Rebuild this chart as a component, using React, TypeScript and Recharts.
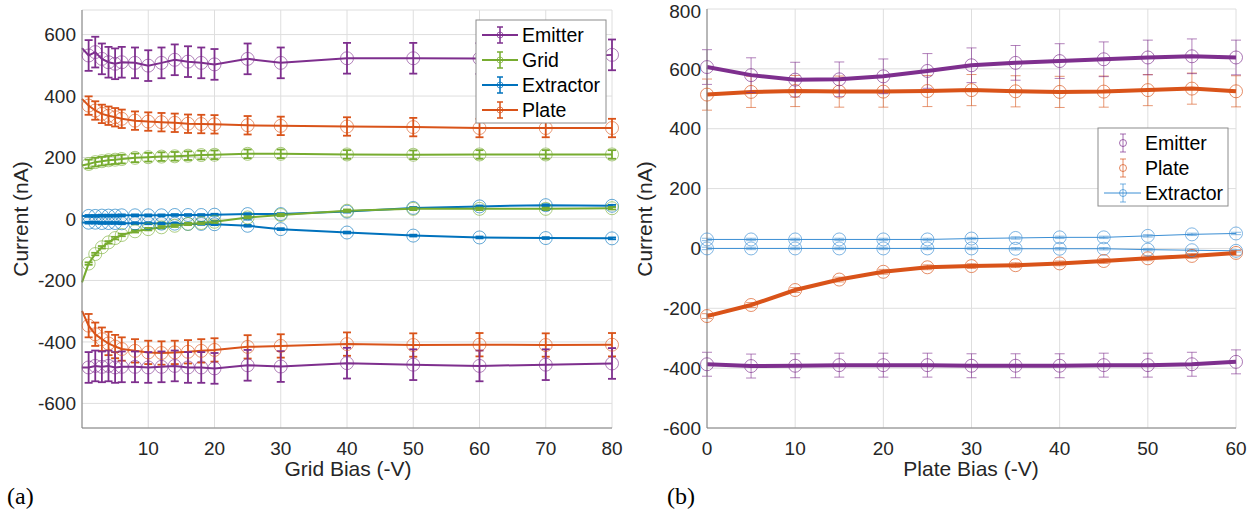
import React from 'react';
import { ComposedChart, Line, ErrorBar, XAxis, YAxis, CartesianGrid } from 'recharts';

const FONT = '"Liberation Sans", Arial, Helvetica, sans-serif';
const SERIF = '"Liberation Serif", "Times New Roman", serif';

const PURPLE = '#7E2F8E';
const GREEN = '#77AC30';
const BLUE = '#0072BD';
const ORANGE = '#D95319';
const SKY = '#3A8ED4';
const GRID = '#dedede';
const AXIS = '#808080';
const INK = '#262626';

// ---- (a) grid bias sweep ----
const gridBias = [0, 1, 2, 3, 4, 5, 6, 8, 10, 12, 14, 16, 18, 20, 25, 30, 40, 50, 60, 70, 80];
const gridBiasTicks = [10, 20, 30, 40, 50, 60, 70, 80];
const currentTicksA = [-600, -400, -200, 0, 200, 400, 600];

const emitterTopA = [556, 532, 543, 521, 510, 505, 510, 508, 499, 508, 518, 512, 508, 503, 521, 508, 523, 523, 522, 524, 534];
const emitterBotA = [-483, -483, -478, -481, -478, -483, -481, -481, -483, -481, -478, -483, -483, -486, -476, -480, -469, -474, -478, -474, -470];
const plateTopA = [391, 369, 353, 342, 336, 331, 326, 320, 317, 315, 313, 310, 309, 308, 305, 303, 301, 299, 296, 296, 296];
const plateBotA = [-299, -347, -375, -391, -405, -415, -423, -429, -434, -436, -434, -432, -429, -426, -416, -413, -407, -410, -409, -410, -409];
const gridTopA = [174, 179, 185, 188, 191, 193, 195, 199, 201, 203, 204, 206, 208, 209, 212, 212, 210, 209, 210, 210, 210];
const gridBotA = [-206, -145, -114, -92, -76, -62, -52, -40, -33, -27, -22, -16, -13, -9, 5, 13, 27, 33, 33, 33, 35];
const extractorTopA = [10, 10, 10, 11, 11, 11, 12, 12, 12, 12, 13, 13, 13, 14, 16, 16, 24, 36, 41, 45, 43];
const extractorBotA = [-11, -12, -12, -13, -13, -13, -14, -14, -14, -15, -15, -16, -16, -17, -22, -33, -44, -54, -60, -62, -63];

// half-length of the error bars
const emitterErrA = 50;
const plateTopErrA = 30;
const plateBotErrA = 38;
const gridTopErrA = 14;
const gridBotErrA = 4;
const extractorErrA = 3;

// ---- (b) plate bias sweep ----
const plateBias = [0, 5, 10, 15, 20, 25, 30, 35, 40, 45, 50, 55, 60];
const plateBiasTicks = [0, 10, 20, 30, 40, 50, 60];
const currentTicksB = [-600, -400, -200, 0, 200, 400, 600, 800];

const emitterTopB = [606, 579, 564, 565, 575, 593, 612, 620, 626, 632, 638, 642, 638];
const emitterBotB = [-387, -393, -392, -390, -390, -390, -392, -392, -392, -390, -390, -387, -379];
const plateTopB = [514, 523, 526, 524, 524, 526, 529, 525, 523, 524, 529, 534, 525];
const plateBotB = [-226, -189, -139, -104, -78, -63, -59, -56, -50, -42, -33, -25, -15];
const extractorTopB = [30, 30, 30, 30, 30, 30, 33, 35, 37, 37, 42, 47, 50];
const extractorBotB = [0, 0, 0, 0, 0, 0, 0, -1, -1, -1, -4, -6, -8];

const emitterTopErrB = 58;
const emitterBotErrB = 40;
const plateTopErrB = 52;
const plateBotErrB = 8;
const extractorErrB = 4;

const dataA = gridBias.map((x, i) => {
  const err = (v: number) => (i === 0 ? null : v);
  return {
    x,
    emitterTop: emitterTopA[i],
    emitterBot: emitterBotA[i],
    plateTop: plateTopA[i],
    plateBot: plateBotA[i],
    gridTop: gridTopA[i],
    gridBot: gridBotA[i],
    extractorTop: extractorTopA[i],
    extractorBot: extractorBotA[i],
    emitterErr: err(emitterErrA),
    plateTopErr: err(plateTopErrA),
    plateBotErr: err(plateBotErrA),
    gridTopErr: err(gridTopErrA),
    gridBotErr: err(gridBotErrA),
    extractorErr: err(extractorErrA),
  };
});

const dataB = plateBias.map((x, i) => ({
  x,
  emitterTop: emitterTopB[i],
  emitterBot: emitterBotB[i],
  plateTop: plateTopB[i],
  plateBot: plateBotB[i],
  extractorTop: extractorTopB[i],
  extractorBot: extractorBotB[i],
  emitterTopErr: emitterTopErrB,
  emitterBotErr: emitterBotErrB,
  plateTopErr: plateTopErrB,
  plateBotErr: plateBotErrB,
  extractorErr: extractorErrB,
}));

const legendA = [
  { name: 'Emitter', color: PURPLE },
  { name: 'Grid', color: GREEN },
  { name: 'Extractor', color: BLUE },
  { name: 'Plate', color: ORANGE },
];
const legendB = [
  { name: 'Emitter', color: PURPLE, line: false },
  { name: 'Plate', color: ORANGE, line: false },
  { name: 'Extractor', color: SKY, line: true },
];

// open circle marker; the first point of (a) has no marker
const ring = (color: string, r: number, opacity: number, skipFirst: boolean) => (p: any) => {
  if (p.cx == null || p.cy == null || (skipFirst && p.index === 0)) return <g key={`m-${p.index}`} />;
  return (
    <circle key={`m-${p.index}`} cx={p.cx} cy={p.cy} r={r} fill="none"
      stroke={color} strokeWidth={1} strokeOpacity={opacity} />
  );
};

const lineA = (key: string, errKey: string, color: string) => (
  <Line key={key} type="linear" dataKey={key} stroke={color} strokeWidth={2}
    dot={ring(color, 6.5, 0.6, true)} activeDot={false} isAnimationActive={false} legendType="none">
    <ErrorBar dataKey={errKey} width={4} stroke={color} strokeWidth={1.8} direction="y" isAnimationActive={false} />
  </Line>
);

const lineB = (key: string, errKey: string, color: string, width: number) => (
  <Line key={key} type="linear" dataKey={key} stroke={color} strokeWidth={width}
    dot={ring(color, 6.5, 0.65, false)} activeDot={false} isAnimationActive={false} legendType="none">
    <ErrorBar dataKey={errKey} width={5} stroke={color} strokeWidth={1} strokeOpacity={0.6} direction="y" isAnimationActive={false} />
  </Line>
);

const tickStyle = { fontSize: 19, fill: INK, fontFamily: FONT };

function LegendA() {
  return (
    <svg width={132} height={105} style={{ position: 'absolute', left: 475, top: 19 }}>
      <rect x={1} y={1} width={130} height={103} fill="#fff" stroke="#8c8c8c" strokeWidth={1} />
      {legendA.map((d, i) => {
        const cy = 16 + i * 25;
        return (
          <g key={d.name}>
            <line x1={7} x2={43} y1={cy} y2={cy} stroke={d.color} strokeWidth={2} />
            <line x1={25} x2={25} y1={cy - 8} y2={cy + 8} stroke={d.color} strokeWidth={1.5} />
            <line x1={22} x2={28} y1={cy - 8} y2={cy - 8} stroke={d.color} strokeWidth={1.5} />
            <line x1={22} x2={28} y1={cy + 8} y2={cy + 8} stroke={d.color} strokeWidth={1.5} />
            <circle cx={25} cy={cy} r={3} fill="none" stroke={d.color} strokeOpacity={0.7} />
            <text x={47} y={cy + 7} fontSize={19.5} fontFamily={FONT} fill="#000">{d.name}</text>
          </g>
        );
      })}
    </svg>
  );
}

function LegendB() {
  return (
    <svg width={132} height={80} style={{ position: 'absolute', left: 1097, top: 127 }}>
      <rect x={1} y={1} width={130} height={78} fill="#fff" stroke="#8c8c8c" strokeWidth={1} />
      {legendB.map((d, i) => {
        const cy = 16 + i * 25;
        return (
          <g key={d.name}>
            {d.line && <line x1={7} x2={44} y1={cy} y2={cy} stroke={d.color} strokeWidth={1} />}
            <line x1={26} x2={26} y1={cy - 9} y2={cy + 9} stroke={d.color} strokeWidth={1} strokeOpacity={0.7} />
            <line x1={23} x2={29} y1={cy - 9} y2={cy - 9} stroke={d.color} strokeWidth={1} strokeOpacity={0.7} />
            <line x1={23} x2={29} y1={cy + 9} y2={cy + 9} stroke={d.color} strokeWidth={1} strokeOpacity={0.7} />
            <circle cx={26} cy={cy} r={3.5} fill="none" stroke={d.color} strokeOpacity={0.7} />
            <text x={48} y={cy + 7} fontSize={19.5} fontFamily={FONT} fill="#000">{d.name}</text>
          </g>
        );
      })}
    </svg>
  );
}

export default function App() {
  return (
    <div style={{ position: 'absolute', left: 0, top: 0, width: 1250, height: 518, background: '#fff', fontFamily: FONT }}>
      {/* titles and panel tags */}
      <svg width={1250} height={518} style={{ position: 'absolute', left: 0, top: 0 }}>
        <text x={348} y={476} textAnchor="middle" fontSize={21} fontFamily={FONT} fill={INK}>Grid Bias (-V)</text>
        <text x={971} y={476} textAnchor="middle" fontSize={21} fontFamily={FONT} fill={INK}>Plate Bias (-V)</text>
        <text transform="translate(28,219) rotate(-90)" textAnchor="middle" fontSize={21} fontFamily={FONT} fill={INK}>Current (nA)</text>
        <text transform="translate(652,219) rotate(-90)" textAnchor="middle" fontSize={21} fontFamily={FONT} fill={INK}>Current (nA)</text>
        <text x={7} y={504} fontSize={24} fontFamily={SERIF} fill="#000">(a)</text>
        <text x={667} y={504} fontSize={24} fontFamily={SERIF} fill="#000">(b)</text>
      </svg>

      {/* (a) */}
      <div style={{ position: 'absolute', left: 0, top: 0 }}>
        <ComposedChart width={640} height={480} data={dataA} margin={{ top: 10, right: 28, bottom: 0, left: 0 }}>
          <CartesianGrid stroke={GRID} />
          <XAxis dataKey="x" type="number" domain={[0, 80]} ticks={gridBiasTicks} height={52}
            tickLine={false} tickSize={6} tickMargin={8} axisLine={{ stroke: AXIS }} tick={tickStyle} />
          <YAxis type="number" domain={[-680, 680]} ticks={currentTicksA} width={82}
            tickLine={false} tickSize={6} tickMargin={0} axisLine={{ stroke: AXIS }} tick={tickStyle} />
          {lineA('extractorTop', 'extractorErr', BLUE)}
          {lineA('extractorBot', 'extractorErr', BLUE)}
          {lineA('gridTop', 'gridTopErr', GREEN)}
          {lineA('gridBot', 'gridBotErr', GREEN)}
          {lineA('plateTop', 'plateTopErr', ORANGE)}
          {lineA('plateBot', 'plateBotErr', ORANGE)}
          {lineA('emitterTop', 'emitterErr', PURPLE)}
          {lineA('emitterBot', 'emitterErr', PURPLE)}
        </ComposedChart>
      </div>

      {/* (b) */}
      <div style={{ position: 'absolute', left: 625, top: 0 }}>
        <ComposedChart width={625} height={480} data={dataB} margin={{ top: 9, right: 14, bottom: 0, left: 0 }}>
          <CartesianGrid stroke={GRID} />
          <XAxis dataKey="x" type="number" domain={[0, 60]} ticks={plateBiasTicks} height={52}
            tickLine={false} tickSize={6} tickMargin={8} axisLine={{ stroke: AXIS }} tick={tickStyle} />
          <YAxis type="number" domain={[-600, 800]} ticks={currentTicksB} width={82}
            tickLine={false} tickSize={6} tickMargin={0} axisLine={{ stroke: AXIS }} tick={tickStyle} />
          {lineB('extractorTop', 'extractorErr', SKY, 1)}
          {lineB('extractorBot', 'extractorErr', SKY, 1)}
          {lineB('plateTop', 'plateTopErr', ORANGE, 4)}
          {lineB('plateBot', 'plateBotErr', ORANGE, 4)}
          {lineB('emitterTop', 'emitterTopErr', PURPLE, 4)}
          {lineB('emitterBot', 'emitterBotErr', PURPLE, 4)}
        </ComposedChart>
      </div>

      <LegendA />
      <LegendB />
    </div>
  );
}
